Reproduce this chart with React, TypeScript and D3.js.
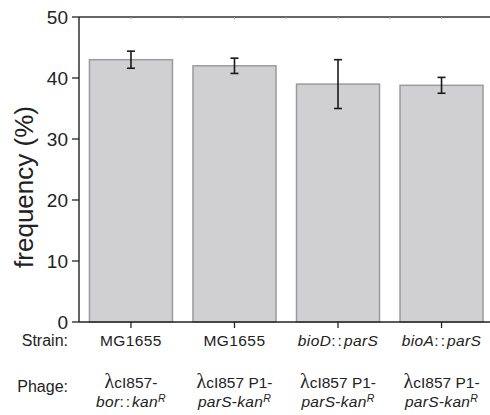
import React from "react";
import * as d3 from "d3";

const categories = ["A", "B", "C", "D"];
const values = [43.0, 42.0, 39.0, 38.8];
const errors = [1.4, 1.25, 4.0, 1.3];
const strainLabels = [
  [{ t: "MG1655", i: false }],
  [{ t: "MG1655", i: false }],
  [{ t: "bioD", i: true }, { t: "::", i: false }, { t: "parS", i: true }],
  [{ t: "bioA", i: true }, { t: "::", i: false }, { t: "parS", i: true }],
];
const phageLine1 = ["cI857-", "cI857 P1-", "cI857 P1-", "cI857 P1-"];
const phageLine2 = [
  [{ t: "bor", i: true }, { t: "::", i: false }, { t: "kan", i: true }],
  [{ t: "parS", i: true }, { t: "-", i: false }, { t: "kan", i: true }],
  [{ t: "parS", i: true }, { t: "-", i: false }, { t: "kan", i: true }],
  [{ t: "parS", i: true }, { t: "-", i: false }, { t: "kan", i: true }],
];
const yTicks = [0, 10, 20, 30, 40, 50];

const FONT = "'Liberation Sans', Arial, Helvetica, sans-serif";

export default function App() {
  const W = 490;
  const H = 415;
  const x0 = 79;
  const x = d3
    .scaleBand<string>()
    .domain(categories)
    .range([x0, 493.5])
    .paddingInner(0.198)
    .paddingOuter(0.101);
  const y = d3.scaleLinear().domain([0, 50]).range([322, 17]);
  const bw = x.bandwidth();
  const minorTicks: number[] = [];
  categories.forEach((c, i) => {
    const cx = (x(c) as number) + bw / 2;
    minorTicks.push(cx);
    if (i < categories.length - 1) minorTicks.push(cx + x.step() / 2);
  });

  return (
    <svg
      width={W}
      height={H}
      style={{ position: "absolute", left: 0, top: 0, background: "#fff" }}
      fontFamily={FONT}
    >
      <rect width={W} height={H} fill="#fff" />
      {categories.map((c, i) => (
        <rect
          key={c}
          x={x(c) as number}
          y={y(values[i])}
          width={bw}
          height={y(0) - y(values[i])}
          fill="#d0d0d2"
          stroke="#9b9b9d"
          strokeWidth={1.5}
        />
      ))}
      {categories.map((c, i) => {
        const cx = (x(c) as number) + bw / 2;
        const yt = y(values[i] + errors[i]);
        const yb = y(values[i] - errors[i]);
        return (
          <g key={"e" + c} stroke="#1a1a1a" strokeWidth={1.6}>
            <line x1={cx} x2={cx} y1={yt} y2={yb} />
            <line x1={cx - 4} x2={cx + 4} y1={yt} y2={yt} />
            <line x1={cx - 4} x2={cx + 4} y1={yb} y2={yb} />
          </g>
        );
      })}
      <line x1={x0} x2={494} y1={17} y2={17} stroke="#333" strokeWidth={1.3} />
      {minorTicks.map((t, i) => (
        <line key={"m" + i} x1={t} x2={t} y1={17} y2={19} stroke="#aaa" strokeWidth={1} />
      ))}
      <line x1={x0} x2={x0} y1={17} y2={322} stroke="#222" strokeWidth={1.4} />
      <line x1={x0} x2={494} y1={322} y2={322} stroke="#222" strokeWidth={1.4} />
      {yTicks.map((t) => (
        <g key={"y" + t}>
          <line x1={72} x2={x0} y1={y(t)} y2={y(t)} stroke="#222" strokeWidth={1.3} />
          <text x={68} y={y(t)} dy="0.36em" textAnchor="end" fontSize={19} fill="#222">
            {t}
          </text>
        </g>
      ))}
      {categories.map((c) => {
        const cx = (x(c) as number) + bw / 2;
        return <line key={"bt" + c} x1={cx} x2={cx} y1={322} y2={328} stroke="#222" strokeWidth={1.3} />;
      })}
      <text
        transform="translate(33,187) rotate(-90)"
        textAnchor="middle"
        fontSize={26}
        fill="#222"
      >
        frequency (%)
      </text>
      <text x={68} y={346} textAnchor="end" fontSize={16} fill="#222">
        Strain:
      </text>
      <text x={68} y={392} textAnchor="end" fontSize={16} fill="#222">
        Phage:
      </text>
      {categories.map((c, i) => {
        const cx = (x(c) as number) + bw / 2;
        return (
          <g key={"l" + c} fill="#222" fontSize={15.5}>
            <text x={cx} y={346} textAnchor="middle" letterSpacing={0.4}>
              {strainLabels[i].map((p, j) => (
                <tspan key={j} fontStyle={p.i ? "italic" : "normal"} letterSpacing={p.t === "::" ? 2 : 0.4}>
                  {p.t}
                </tspan>
              ))}
            </text>
            <text x={cx} y={388} textAnchor="middle">
              <tspan fontFamily="'Liberation Serif', 'DejaVu Serif', serif" fontSize={20}>
                λ
              </tspan>
              <tspan>{phageLine1[i]}</tspan>
            </text>
            <text x={cx} y={407} textAnchor="middle" fontStyle="italic" letterSpacing={0.3}>
              {phageLine2[i].map((p, j) => (
                <tspan key={j} fontStyle={p.i ? "italic" : "normal"} letterSpacing={p.t === "::" ? 2 : 0.3}>
                  {p.t}
                </tspan>
              ))}
              <tspan fontSize={10.5} dy={-5}>
                R
              </tspan>
            </text>
          </g>
        );
      })}
    </svg>
  );
}
